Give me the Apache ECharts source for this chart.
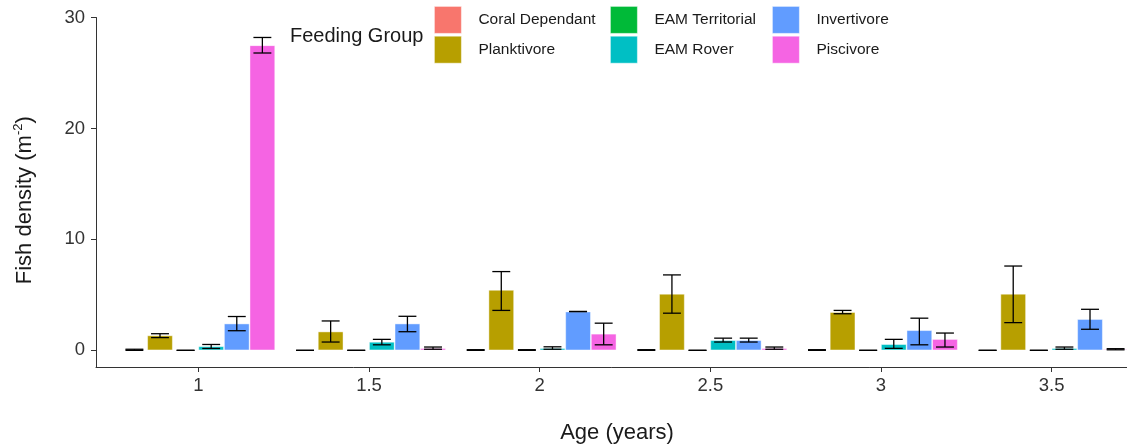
<!DOCTYPE html>
<html><head><meta charset="utf-8">
<script src="https://cdn.jsdelivr.net/npm/echarts@6/dist/echarts.min.js"></script>
<style>html,body{margin:0;padding:0;background:#fff}#c{width:1127px;height:448px}</style>
</head><body><div id="c"></div>
<script>
// Categories (x axis) and feeding groups
const ages = ['1', '1.5', '2', '2.5', '3', '3.5'];
const groups = ['Coral Dependant', 'Planktivore', 'EAM Territorial', 'EAM Rover', 'Invertivore', 'Piscivore'];
const colors = ['#F8766D', '#B79F00', '#00BA38', '#00BFC4', '#619CFF', '#F564E3'];
const yTicks = [0, 10, 20, 30];

// Means and error-bar limits per feeding group (one value per age)
const coralMean = [0.05, 0, 0.03, 0.03, 0.03, 0];
const coralLow  = [0, 0, 0, 0, 0, 0];
const coralHigh = [0.1, 0, 0.06, 0.06, 0.06, 0];

const planktMean = [1.35, 1.7, 5.45, 5.1, 3.45, 5.1];
const planktLow  = [1.15, 0.75, 3.6, 3.35, 3.3, 2.5];
const planktHigh = [1.5, 2.65, 7.1, 6.8, 3.6, 7.6];

const eamTerrMean = [0, 0, 0.03, 0, 0, 0];
const eamTerrLow  = [0, 0, 0, 0, 0, 0];
const eamTerrHigh = [0, 0, 0.06, 0, 0, 0];

const eamRoverMean = [0.37, 0.77, 0.2, 0.92, 0.56, 0.2];
const eamRoverLow  = [0.17, 0.5, 0.1, 0.75, 0.18, 0.1];
const eamRoverHigh = [0.53, 0.99, 0.32, 1.1, 0.99, 0.3];

const invertMean = [2.42, 2.42, 3.5, 0.92, 1.82, 2.82];
const invertLow  = [1.77, 1.68, 3.5, 0.75, 0.5, 1.9];
const invertHigh = [3.05, 3.07, 3.5, 1.1, 2.9, 3.7];

const pisciMean = [27.5, 0.2, 1.5, 0.2, 1.02, 0.1];
const pisciLow  = [26.8, 0.1, 0.5, 0.1, 0.3, 0.05];
const pisciHigh = [28.2, 0.3, 2.45, 0.3, 1.56, 0.15];

const means = [coralMean, planktMean, eamTerrMean, eamRoverMean, invertMean, pisciMean];
const lows  = [coralLow, planktLow, eamTerrLow, eamRoverLow, invertLow, pisciLow];
const highs = [coralHigh, planktHigh, eamTerrHigh, eamRoverHigh, invertHigh, pisciHigh];

const DODGE = 0.9 / groups.length;   // bar width in category units
const CAP = 0.105;                    // error bar cap width in category units

const chart = echarts.init(document.getElementById('c'), null, {renderer: 'canvas'});

const series = [];
groups.forEach((g, s) => {
  series.push({
    name: g,
    type: 'bar',
    barGap: 0,
    barCategoryGap: '10%',
    itemStyle: {color: colors[s], borderColor: 'rgba(255,255,255,0.55)', borderWidth: 0.8},
    data: means[s].map((v, i) => [i, v]),
    z: 2
  });
});
groups.forEach((g, s) => {
  series.push({
    name: g + ' err',
    type: 'custom',
    z: 5,
    silent: true,
    data: lows[s].map((lo, i) => [i, lo, highs[s][i]]),
    renderItem: function (params, api) {
      const off = (s - (groups.length - 1) / 2) * DODGE;
      const x = api.value(0) + off;
      const pLo = api.coord([x, api.value(1)]);
      const pHi = api.coord([x, api.value(2)]);
      const hw = api.size([CAP, 0])[0] / 2;
      const st = {stroke: '#000', lineWidth: 1.3};
      return {
        type: 'group',
        children: [
          {type: 'line', shape: {x1: pLo[0], y1: pLo[1], x2: pHi[0], y2: pHi[1]}, style: st},
          {type: 'line', shape: {x1: pLo[0] - hw, y1: pLo[1], x2: pLo[0] + hw, y2: pLo[1]}, style: st},
          {type: 'line', shape: {x1: pHi[0] - hw, y1: pHi[1], x2: pHi[0] + hw, y2: pHi[1]}, style: st}
        ]
      };
    }
  });
});

const legendBase = {
  orient: 'vertical', top: 6, padding: 0, itemGap: 2,
  itemWidth: 27, itemHeight: 27, icon: 'rect', selectedMode: false,
  itemStyle: {borderColor: 'rgba(255,255,255,0.6)', borderWidth: 0.8},
  textStyle: {fontSize: 15.5, color: '#1a1a1a', fontFamily: 'Liberation Sans', padding: [5, 0, 0, 12]}
};

chart.setOption({
  animation: false,
  backgroundColor: '#fff',
  textStyle: {fontFamily: 'Liberation Sans'},
  title: {
    text: 'Feeding Group', left: 290, top: 26, padding: 0,
    textStyle: {fontSize: 20, fontWeight: 'normal', color: '#1a1a1a', fontFamily: 'Liberation Sans'}
  },
  legend: [
    Object.assign({}, legendBase, {left: 434, data: [groups[0], groups[1]]}),
    Object.assign({}, legendBase, {left: 610, data: [groups[2], groups[3]]}),
    Object.assign({}, legendBase, {left: 772, data: [groups[4], groups[5]]})
  ],
  grid: {left: 96, right: -27, top: 17.5, bottom: 81, containLabel: false, outerBoundsMode: 'none'},
  xAxis: {
    type: 'value', min: -0.6, max: ages.length - 0.4,
    splitLine: {show: false},
    axisLine: {show: true, onZero: false, lineStyle: {color: '#333', width: 1}},
    axisTick: {show: true, customValues: ages.map((a, i) => i), length: 5, lineStyle: {color: '#333'}},
    axisLabel: {
      customValues: ages.map((a, i) => i),
      formatter: v => ages[Math.round(v)],
      fontSize: 18.5, color: '#333', margin: 9, fontFamily: 'Liberation Sans'
    },
    name: 'Age (years)', nameLocation: 'middle', nameGap: 55,
    nameTextStyle: {fontSize: 22, color: '#1a1a1a', fontFamily: 'Liberation Sans', padding: [0, 16, 0, 0]}
  },
  yAxis: {
    type: 'value', min: -1.5, max: 30,
    splitLine: {show: false},
    axisLine: {show: true, onZero: false, lineStyle: {color: '#333', width: 1}},
    axisTick: {show: true, customValues: yTicks, length: 5, lineStyle: {color: '#333'}},
    axisLabel: {customValues: yTicks, fontSize: 18.5, color: '#333', margin: 11, fontFamily: 'Liberation Sans'},
    name: '{a|Fish density (m}{s|-2}{a|)}', nameLocation: 'middle', nameGap: 58, nameRotate: 90,
    nameTextStyle: {
      color: '#1a1a1a',
      padding: [0, 16, 0, 0],
      rich: {
        a: {fontSize: 22, color: '#1a1a1a', fontFamily: 'Liberation Sans', lineHeight: 26},
        s: {fontSize: 13, color: '#1a1a1a', fontFamily: 'Liberation Sans', verticalAlign: 'top', lineHeight: 13}
      }
    }
  },
  series: series
});
</script>
</body></html>
